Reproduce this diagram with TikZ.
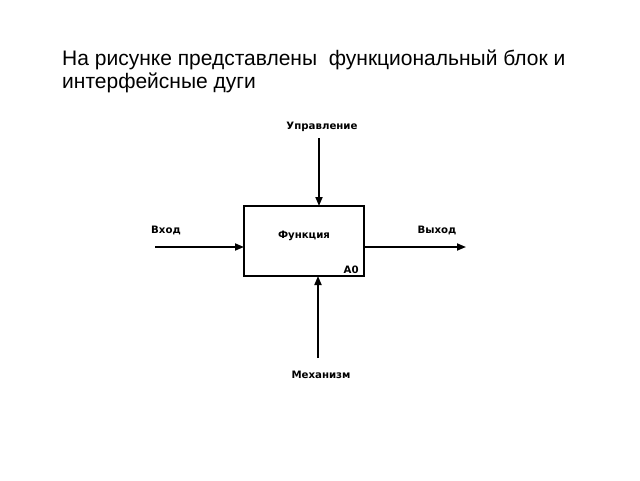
\documentclass[tikz,border=0pt]{standalone}
\usepackage{fontspec}
\setmainfont{Liberation Sans}
\newfontfamily\lblfont{DejaVu Sans}
\usetikzlibrary{arrows.meta}
\begin{document}
\begin{tikzpicture}[x=1pt,y=-1pt,
  lbl/.style={font=\lblfont\fontsize{10.2}{12}\selectfont\bfseries, inner sep=0pt},
  arc/.style={line width=1.7pt, -{Triangle[length=9pt,width=7pt]}},
  blk/.style={draw, line width=1.7pt, minimum width=120pt, minimum height=70pt, inner sep=0pt}]
\useasboundingbox (0,0) rectangle (640,480);
\node[anchor=base west, align=left, inner sep=0pt, font=\fontsize{21}{23.5}\selectfont] (title) at (62,88.5)
  {На рисунке представлены\ \ функциональный блок и\\интерфейсные дуги};
\node[blk] (f) at (304,241) {};
\node[lbl] (fn) at (304,236) {Функция};
\node[lbl, anchor=south east] (a0) at ([shift={(-6,-3)}]f.south east) {A0};
\node[lbl] (ctl) at (322,127) {Управление};
\node[lbl] (in) at (166,230) {Вход};
\node[lbl] (out) at (437,230) {Выход};
\node[lbl] (mech) at (321,375) {Механизм};
\coordinate (ctls) at (319,138);
\coordinate (ctle) at (319,206);
\coordinate (ins) at (155,247);
\coordinate (ine) at (244,247);
\coordinate (outs) at (364,247);
\coordinate (oute) at (466,247);
\coordinate (mechs) at (318,358);
\coordinate (meche) at (318,276);
\draw[arc] (ctls) -- (ctle);
\draw[arc] (ins) -- (ine);
\draw[arc] (outs) -- (oute);
\draw[arc] (mechs) -- (meche);
\end{tikzpicture}
\end{document}
